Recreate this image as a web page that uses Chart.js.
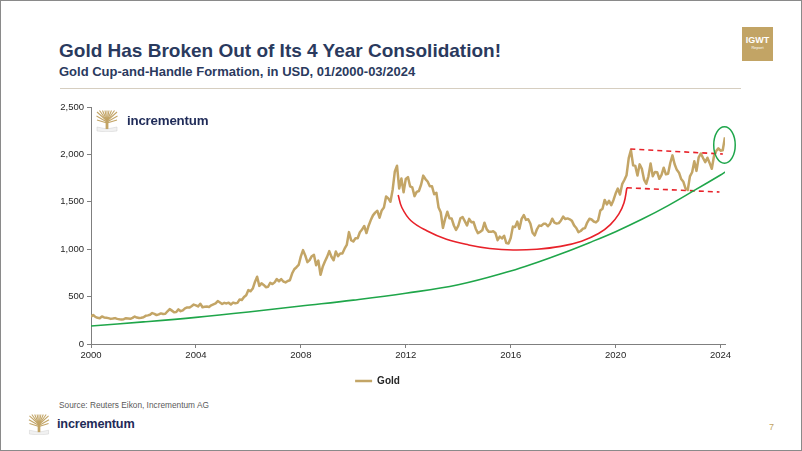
<!DOCTYPE html>
<html>
<head>
<meta charset="utf-8">
<script src="https://cdn.jsdelivr.net/npm/chart.js@4.4.1/dist/chart.umd.min.js"></script>
<style>
  html, body { margin: 0; padding: 0; }
  body { width: 802px; height: 451px; position: relative; background: #fff; overflow: hidden;
         font-family: "Liberation Sans", Arial, sans-serif; }
  .frame { position: absolute; left: 0; top: 0; width: 800px; height: 449px; border: 1px solid #8a8a8a; }
  .title { position: absolute; left: 59px; top: 41px; font-size: 19px; line-height: 19px; font-weight: bold; color: #2a3a5e; white-space: nowrap; }
  .subtitle { position: absolute; left: 59px; top: 65px; font-size: 13px; line-height: 13px; font-weight: bold; color: #2a3a5e; white-space: nowrap; }
  .rule { position: absolute; left: 60px; top: 88px; width: 681px; height: 1px; background: #d6cec0; }
  .igwt { position: absolute; left: 742px; top: 27px; width: 31px; height: 34px; background: #c2a465; color: #fff; text-align: center; }
  .igwt b { display: block; font-size: 9px; line-height: 9px; margin-top: 9px; }
  .igwt span { display: block; font-size: 4px; line-height: 5px; }
  .logo-text { position: absolute; font-weight: bold; color: #1f2b58; white-space: nowrap; letter-spacing: -0.2px; }
  .tree { position: absolute; }
  .source { position: absolute; left: 59px; top: 401px; font-size: 8.3px; line-height: 8.3px; color: #5a5a5a; white-space: nowrap; }
  .page { position: absolute; left: 769px; top: 423px; font-size: 9px; line-height: 9px; color: #c2a465; }
  #wrap { position: absolute; left: 30px; top: 95px; width: 740px; height: 301px; }
</style>
</head>
<body>
<div class="frame"></div>
<div class="title">Gold Has Broken Out of Its 4 Year Consolidation!</div>
<div class="subtitle">Gold Cup-and-Handle Formation, in USD, 01/2000-03/2024</div>
<div class="rule"></div>
<div class="igwt"><b>IGWT</b><span>Report</span></div>

<div id="wrap"><canvas id="chart"></canvas></div>

<svg class="tree" style="left:96px;top:110px" width="22" height="22" viewBox="0 0 22 22">
  <path d="M1 17 L11 19 L21 17 L21 21 L11 22 L1 21 Z" fill="#f1f1f1" stroke="#cfcfcf" stroke-width="0.5"/>
  <rect x="9.6" y="9" width="2.8" height="10" fill="#c2a465"/>
  <g stroke="#c2a465" stroke-width="1.1">
    <line x1="11" y1="11" x2="1" y2="2"/><line x1="11" y1="11" x2="3.5" y2="0.5"/>
    <line x1="11" y1="11" x2="6.5" y2="0.5"/><line x1="11" y1="11" x2="9" y2="0.5"/>
    <line x1="11" y1="11" x2="11" y2="0.5"/><line x1="11" y1="11" x2="13" y2="0.5"/>
    <line x1="11" y1="11" x2="15.5" y2="0.5"/><line x1="11" y1="11" x2="18.5" y2="0.5"/>
    <line x1="11" y1="11" x2="21" y2="2"/><line x1="11" y1="12" x2="0.5" y2="6"/>
    <line x1="11" y1="12" x2="21.5" y2="6"/><line x1="11" y1="13" x2="1" y2="10"/>
    <line x1="11" y1="13" x2="21" y2="10"/>
  </g>
</svg>
<div class="logo-text" style="left:127px;top:114px;font-size:13.3px;line-height:13.3px">incrementum</div>

<div class="source">Source: Reuters Eikon, Incrementum AG</div>
<svg class="tree" style="left:28px;top:414px" width="22" height="21" viewBox="0 0 22 22">
  <path d="M1 17 L11 19 L21 17 L21 21 L11 22 L1 21 Z" fill="#f1f1f1" stroke="#cfcfcf" stroke-width="0.5"/>
  <rect x="9.6" y="9" width="2.8" height="10" fill="#c2a465"/>
  <g stroke="#c2a465" stroke-width="1.1">
    <line x1="11" y1="11" x2="1" y2="2"/><line x1="11" y1="11" x2="3.5" y2="0.5"/>
    <line x1="11" y1="11" x2="6.5" y2="0.5"/><line x1="11" y1="11" x2="9" y2="0.5"/>
    <line x1="11" y1="11" x2="11" y2="0.5"/><line x1="11" y1="11" x2="13" y2="0.5"/>
    <line x1="11" y1="11" x2="15.5" y2="0.5"/><line x1="11" y1="11" x2="18.5" y2="0.5"/>
    <line x1="11" y1="11" x2="21" y2="2"/><line x1="11" y1="12" x2="0.5" y2="6"/>
    <line x1="11" y1="12" x2="21.5" y2="6"/><line x1="11" y1="13" x2="1" y2="10"/>
    <line x1="11" y1="13" x2="21" y2="10"/>
  </g>
</svg>
<div class="logo-text" style="left:57px;top:418px;font-size:12.7px;line-height:12.7px">incrementum</div>
<div class="page">7</div>

<script>
// gold price, USD/oz, one value per month from 01/2000 to 03/2024
const goldStartYear = 2000;
const goldMonthly = [
  289, 305, 286, 276, 272, 290, 280, 277, 273, 265, 268, 273,        // 2000
  265, 261, 258, 262, 272, 270, 266, 276, 290, 279, 274, 277,        // 2001
  282, 297, 302, 308, 326, 318, 305, 312, 323, 316, 319, 345,        // 2002
  368, 352, 335, 338, 365, 346, 355, 376, 386, 384, 398, 416,        // 2003
  408, 396, 425, 388, 393, 395, 391, 408, 418, 428, 453, 438,        // 2004
  422, 434, 428, 436, 417, 437, 430, 434, 470, 464, 496, 515,        // 2005
  569, 556, 585, 655, 710, 613, 640, 623, 599, 604, 646, 632,        // 2006
  650, 685, 662, 684, 659, 650, 665, 673, 743, 789, 810, 834,        // 2007
  924, 990, 935, 864, 885, 926, 940, 830, 880, 730, 814, 870,        // 2008
  919, 980, 920, 883, 975, 927, 955, 955, 1005, 1045, 1180, 1095,    // 2009
  1081, 1116, 1115, 1179, 1207, 1245, 1170, 1248, 1307, 1357, 1386, 1405, // 2010
  1332, 1409, 1439, 1556, 1536, 1500, 1628, 1820, 1880, 1640, 1746, 1600, // 2011
  1740, 1760, 1662, 1651, 1560, 1604, 1614, 1680, 1776, 1740, 1714, 1664, // 2012
  1663, 1580, 1595, 1440, 1390, 1225, 1320, 1395, 1326, 1323, 1250, 1204, // 2013
  1245, 1326, 1340, 1296, 1250, 1320, 1285, 1287, 1216, 1170, 1183, 1199, // 2014
  1280, 1212, 1183, 1183, 1190, 1172, 1095, 1133, 1114, 1142, 1065, 1060, // 2015
  1118, 1238, 1233, 1291, 1215, 1320, 1360, 1309, 1316, 1271, 1173, 1146, // 2016
  1210, 1250, 1246, 1268, 1268, 1242, 1267, 1322, 1280, 1270, 1275, 1303, // 2017
  1343, 1318, 1325, 1315, 1299, 1251, 1224, 1180, 1192, 1215, 1222, 1281, // 2018
  1321, 1313, 1292, 1283, 1305, 1409, 1427, 1520, 1472, 1511, 1464, 1517, // 2019
  1587, 1640, 1577, 1686, 1730, 1781, 1960, 2045, 1886, 1879, 1777, 1895, // 2020
  1848, 1734, 1690, 1769, 1905, 1770, 1814, 1813, 1743, 1783, 1860, 1790, // 2021
  1796, 1909, 1990, 1896, 1837, 1807, 1740, 1711, 1640, 1625, 1768, 1812, // 2022
  1928, 1826, 1969, 2010, 1962, 1919, 1965, 1910, 1848, 1983, 2036, 2063, // 2023
  2039, 2044, 2180                                                    // 2024
];

// long-term support curve (green)
const trendYears  = [2000, 2002, 2004, 2006, 2008, 2010, 2012, 2014, 2016, 2017, 2018, 2019, 2020, 2021, 2022, 2023, 2024, 2024.2];
const trendValues = [190, 233, 281, 338, 401, 463, 535, 625, 770, 860, 960, 1069, 1185, 1315, 1460, 1620, 1783, 1818];

// cup (red arc)
const cupYears  = [2011.71, 2011.85, 2012.2, 2012.8, 2013.55, 2014.4, 2015.2, 2016.09, 2017.0, 2017.9, 2018.7, 2019.35, 2019.8, 2020.12, 2020.32, 2020.43];
const cupValues = [1572, 1440, 1300, 1195, 1105, 1045, 1008, 992, 1000, 1030, 1085, 1165, 1260, 1370, 1490, 1648];

// handle (red dashed channel)
const handleTopYears    = [2020.56, 2024.09];
const handleTopValues   = [2057, 2004];
const handleBottomYears  = [2020.43, 2023.96];
const handleBottomValues = [1648, 1603];

// breakout marker (green ellipse): centre and radii in data units
const breakoutCenter = [2024.15, 2099];
const breakoutRadius = [0.41, 193];

const xTickYears = [2000, 2004, 2008, 2012, 2016, 2020, 2024];
const yTickValues = [0, 500, 1000, 1500, 2000, 2500];
const yTickLabels = ['0', '500', '1,000', '1,500', '2,000', '2,500'];

const pts = (xs, ys) => xs.map((x, i) => ({ x: x, y: ys[i] }));

const circleMarker = {
  id: 'circleMarker',
  afterDatasetsDraw(chart) {
    const { ctx, scales: { x, y } } = chart;
    const cx = x.getPixelForValue(breakoutCenter[0]);
    const cy = y.getPixelForValue(breakoutCenter[1]);
    const rx = Math.abs(x.getPixelForValue(breakoutCenter[0] + breakoutRadius[0]) - cx);
    const ry = Math.abs(y.getPixelForValue(breakoutCenter[1] + breakoutRadius[1]) - cy);
    ctx.save();
    ctx.strokeStyle = '#1ea64b';
    ctx.lineWidth = 1.5;
    ctx.beginPath();
    ctx.ellipse(cx, cy, rx, ry, 0, 0, Math.PI * 2);
    ctx.stroke();
    ctx.restore();
  }
};

Chart.defaults.font.family = '"Liberation Sans", Arial, sans-serif';
Chart.defaults.color = '#404040';

new Chart(document.getElementById('chart'), {
  type: 'line',
  data: {
    datasets: [
      {
        label: 'Gold',
        data: goldMonthly.map((v, i) => ({ x: goldStartYear + i / 12, y: v })),
        borderColor: '#c3a566',
        backgroundColor: '#c3a566',
        borderWidth: 2.5,
        pointRadius: 0,
        tension: 0,
        borderJoinStyle: 'round',
        order: 5
      },
      {
        label: 'Trend',
        data: pts(trendYears, trendValues),
        borderColor: '#1fa64a',
        borderWidth: 1.6,
        pointRadius: 0,
        tension: 0.4,
        order: 1
      },
      {
        label: 'Cup',
        data: pts(cupYears, cupValues),
        borderColor: '#e8222a',
        borderWidth: 1.6,
        pointRadius: 0,
        tension: 0.4,
        order: 2
      },
      {
        label: 'Handle top',
        data: pts(handleTopYears, handleTopValues),
        borderColor: '#e8222a',
        borderWidth: 1.6,
        borderDash: [5, 4],
        pointRadius: 0,
        order: 3
      },
      {
        label: 'Handle bottom',
        data: pts(handleBottomYears, handleBottomValues),
        borderColor: '#e8222a',
        borderWidth: 1.6,
        borderDash: [5, 4],
        pointRadius: 0,
        order: 3
      }
    ]
  },
  options: {
    responsive: true,
    maintainAspectRatio: false,
    animation: false,
    layout: { padding: { left: 0, right: 45, top: 12, bottom: 0 } },
    scales: {
      x: {
        type: 'linear',
        min: 2000,
        max: 2024.17,
        afterBuildTicks: s => { s.ticks = xTickYears.map(v => ({ value: v })); },
        afterFit: s => { s.height = 24; },
        ticks: {
          font: { size: 9.5 },
          color: '#262626',
          padding: 2,
          maxRotation: 0,
          callback: v => String(v)
        },
        grid: { drawOnChartArea: false, drawTicks: true, tickLength: 4, color: '#7f7f7f' },
        border: { color: '#7f7f7f', width: 1 }
      },
      y: {
        min: 0,
        max: 2500,
        afterBuildTicks: s => { s.ticks = yTickValues.map(v => ({ value: v })); },
        afterFit: s => { s.width = 61; },
        ticks: {
          font: { size: 9.5 },
          color: '#262626',
          padding: 3,
          callback: v => yTickLabels[yTickValues.indexOf(v)]
        },
        grid: { drawOnChartArea: false, drawTicks: true, tickLength: 4, color: '#7f7f7f' },
        border: { color: '#7f7f7f', width: 1 }
      }
    },
    plugins: {
      tooltip: { enabled: false },
      legend: {
        position: 'bottom',
        labels: {
          filter: item => item.text === 'Gold',
          usePointStyle: true,
          pointStyle: 'line',
          pointStyleWidth: 17,
          padding: 8,
          color: '#262626',
          font: { size: 10, weight: 'bold' }
        }
      }
    }
  },
  plugins: [circleMarker]
});
</script>
</body>
</html>
